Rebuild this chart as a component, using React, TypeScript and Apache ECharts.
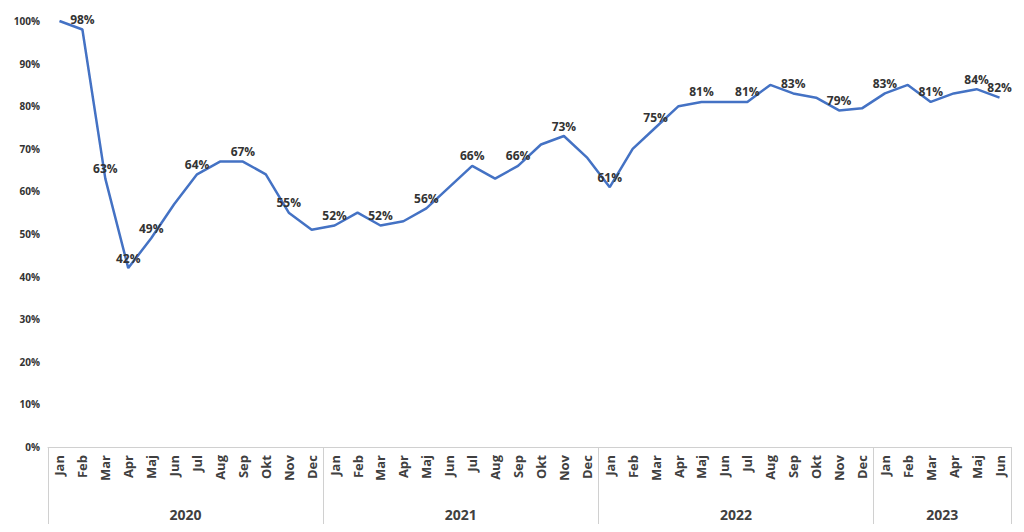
import { useEffect, useRef } from 'react';
import * as echarts from 'echarts';

const monthNames = ['Jan', 'Feb', 'Mar', 'Apr', 'Maj', 'Jun', 'Jul', 'Aug', 'Sep', 'Okt', 'Nov', 'Dec'];
const years = ['2020', '2021', '2022', '2023'];
const monthsPerYear = [12, 12, 12, 6];

const values = [
  100, 98, 63, 42, 49, 57, 64, 67, 67, 64, 55, 51,
  52, 55, 52, 53, 56, 61, 66, 63, 66, 71, 73, 68,
  61, 70, 75, 80, 81, 81, 81, 85, 83, 82, 79, 79.5,
  83, 85, 81, 83, 84, 82,
];
// which points carry a data label
const labelled = [
  0, 1, 1, 1, 1, 0, 1, 0, 1, 0, 1, 0,
  1, 0, 1, 0, 1, 0, 1, 0, 1, 0, 1, 0,
  1, 0, 1, 0, 1, 0, 1, 0, 1, 0, 1, 0,
  1, 0, 1, 0, 1, 1,
];
const yTicks = [0, 10, 20, 30, 40, 50, 60, 70, 80, 90, 100];

const categories: string[] = [];
const yearOf: string[] = [];
const yearMid = new Set<number>();
const yearStart = new Set<number>();
let idx = 0;
years.forEach((y, i) => {
  yearStart.add(idx);
  yearMid.add(idx + monthsPerYear[i] / 2 - 1);
  for (let m = 0; m < monthsPerYear[i]; m++) {
    categories.push(monthNames[m]);
    yearOf.push(y);
    idx++;
  }
});
yearStart.add(idx);

export default function App() {
  const ref = useRef<HTMLDivElement>(null);

  useEffect(() => {
    if (!ref.current) return;
    const chart = echarts.init(ref.current, null, { renderer: 'svg' });
    chart.setOption({
      animation: false,
      textStyle: { fontFamily: 'Open Sans' },
      grid: { left: 40, right: 5, top: 13, bottom: 77 },
      yAxis: {
        type: 'value',
        min: 0,
        max: yTicks[yTicks.length - 1],
        interval: 10,
        splitLine: { show: false },
        axisLine: { show: false },
        axisTick: { show: false },
        axisLabel: {
          color: '#333',
          fontSize: 10,
          fontWeight: 'bold',
          margin: 8,
          formatter: (v: number) => `${v}%`,
        },
      },
      xAxis: [
        {
          type: 'category',
          data: categories,
          boundaryGap: true,
          axisLine: { lineStyle: { color: '#d0d0d0' } },
          axisTick: { show: false },
          axisLabel: {
            rotate: 90,
            interval: 0,
            color: '#404040',
            fontSize: 13,
            fontWeight: 'bold',
            margin: 8,
          },
        },
        {
          type: 'category',
          data: yearOf,
          position: 'bottom',
          boundaryGap: true,
          axisLine: { show: false },
          axisTick: {
            show: true,
            length: 78,
            interval: (i: number) => yearStart.has(i),
            lineStyle: { color: '#d0d0d0' },
          },
          axisLabel: {
            interval: (i: number) => yearMid.has(i),
            color: '#404040',
            fontSize: 14,
            fontWeight: 'bold',
            margin: 60,
            padding: [0, 0, 0, 23],
          },
        },
      ],
      series: [
        {
          type: 'line',
          data: values.map((v, i) => ({
            value: v,
            label: { show: labelled[i] === 1 },
          })),
          showSymbol: true,
          symbol: 'circle',
          symbolSize: 0,
          lineStyle: { color: '#4472C4', width: 2.5 },
          itemStyle: { color: '#4472C4' },
          label: {
            position: 'top',
            color: '#333',
            fontSize: 12,
            fontWeight: 'bold',
            distance: 4,
            formatter: (p: any) => `${Math.round(p.value)}%`,
          },
        },
      ],
    });
    return () => chart.dispose();
  }, []);

  return <div ref={ref} style={{ width: 1008, height: 516 }} />;
}
